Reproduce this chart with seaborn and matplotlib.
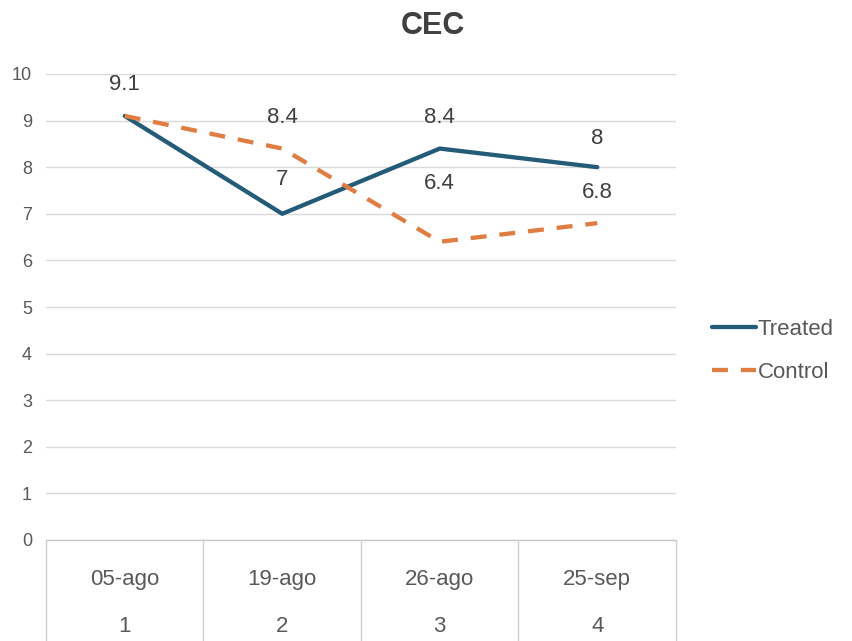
import matplotlib
matplotlib.use("Agg")
import matplotlib.pyplot as plt
from matplotlib import font_manager
from matplotlib.lines import Line2D
import seaborn as sns
import pandas as pd

# Sampling dates and their sequence numbers
dates = ["05-ago", "19-ago", "26-ago", "25-sep"]
sample_no = ["1", "2", "3", "4"]

# CEC values per series
treated = [9.1, 7.0, 8.4, 8.0]
control = [9.1, 8.4, 6.4, 6.8]
series_names = ["Treated", "Control"]

sns.set_theme(style="white")
names = {f.name for f in font_manager.fontManager.ttflist}
base_font = "Liberation Sans Narrow" if "Liberation Sans Narrow" in names else "Liberation Sans"
plt.rcParams["font.family"] = [base_font, "DejaVu Sans"]

TEAL = "#245C78"
ORANGE = "#E07D43"
TEXT = "#404040"
AXIS_TEXT = "#595959"
GRID = "#D9D9D9"
LW = 3.1
DASH = (3.7, 3.0)

df = pd.DataFrame({
    "pos": list(range(len(dates))) * 2,
    "value": treated + control,
    "Series": [series_names[0]] * len(dates) + [series_names[1]] * len(dates),
})

W, H = 853, 641
fig = plt.figure(figsize=(W / 100, H / 100), dpi=100)
ax = fig.add_axes([46 / W, (H - 540) / H, 630 / W, 466 / H])

sns.lineplot(
    data=df, x="pos", y="value", hue="Series", style="Series",
    palette={"Treated": TEAL, "Control": ORANGE},
    dashes={"Treated": "", "Control": DASH},
    linewidth=LW, legend=False, ax=ax, sort=False,
)

ax.set_xlim(-0.5, len(dates) - 0.5)
ax.set_ylim(0, 10)
ax.set_yticks(range(0, 11))
ax.set_yticklabels([str(v) for v in range(0, 11)], color=AXIS_TEXT, fontsize=13)
ax.tick_params(axis="y", length=0, pad=10)
ax.set_xticks([])
ax.set_xlabel("")
ax.set_ylabel("")
for s in ax.spines.values():
    s.set_visible(False)
ax.grid(axis="y", color=GRID, linewidth=1.0)
ax.set_axisbelow(True)

# Data labels (first control point coincides with the treated one)
label_offsets = {
    "Treated": [31, 34, 31, 29],
    "Control": [31, 31, 58, 31],
}
for name, vals in [("Treated", treated), ("Control", control)]:
    for i, v in enumerate(vals):
        if name == "Control" and i == 0:
            continue
        ax.annotate(f"{v:g}", (i, v), xytext=(0, label_offsets[name][i]),
                    textcoords="offset pixels", ha="center", va="center",
                    fontsize=16, color=TEXT)

# Two-row category table below the plot area
trans = ax.get_xaxis_transform()
ax.plot([-0.5, len(dates) - 0.5], [0, 0], transform=trans, color="#C8C8C8",
        lw=1.0, clip_on=False)
for b in [i - 0.5 for i in range(len(dates) + 1)]:
    ax.plot([b, b], [0, -0.25], transform=trans, color="#D0D0D0", lw=1.0,
            clip_on=False)
for i, (d, n) in enumerate(zip(dates, sample_no)):
    ax.text(i, -40 / 466, d, transform=trans, ha="center", va="center",
            fontsize=16, color=AXIS_TEXT)
    ax.text(i, -86 / 466, n, transform=trans, ha="center", va="center",
            fontsize=16, color=AXIS_TEXT)

fig.text(433 / W, 1 - 26 / H, "CEC", ha="center", va="center",
         fontsize=22, fontweight="bold", color=TEXT)

handles = [
    Line2D([], [], color=TEAL, lw=LW),
    Line2D([], [], color=ORANGE, lw=LW, dashes=DASH),
]
fig.legend(handles, series_names, loc="center left",
           bbox_to_anchor=(692 / W, 1 - 351 / H), frameon=False,
           fontsize=16, labelcolor=AXIS_TEXT, handlelength=2.0,
           handletextpad=0.05, labelspacing=1.0)

fig.savefig("out.png", dpi=100, facecolor="white")
